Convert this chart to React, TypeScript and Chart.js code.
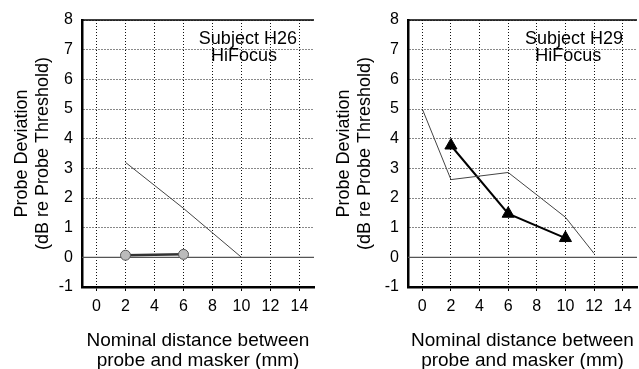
import React, { useEffect, useRef } from "react";
import { Chart, registerables } from "chart.js";

Chart.register(...registerables);

// ---- data ----
const xTickValues = [0, 2, 4, 6, 8, 10, 12, 14];
const yMin = -1;
const yMax = 8;
const xMin = -1;
const xMax = 15;

const h26ThinX = [2, 6, 10];
const h26ThinY = [3.2, 1.65, 0];
const h26CircleX = [2, 6];
const h26CircleY = [0.07, 0.1];

const h29ThinX = [0, 2, 6, 10, 12];
const h29ThinY = [5.0, 2.62, 2.86, 1.35, 0.13];
const h29TriX = [2, 6, 10];
const h29TriY = [3.77, 1.47, 0.65];

const yTitle = ["Probe Deviation", "(dB re Probe Threshold)"];
const xTitle = ["Nominal distance between", "probe and masker (mm)"];
const h26Label = ["Subject H26", "HiFocus"];
const h29Label = ["Subject H29", "HiFocus"];
const h26LabelX = [10.44, 10.17];
const h29LabelX = [10.6, 10.2];
const labelPosY = [7.37, 6.8];

const FONT = "'Liberation Sans', Arial, sans-serif";

const pts = (xs: number[], ys: number[]) => xs.map((x, i) => ({ x, y: ys[i] }));

const framePlugin = {
  id: "frame",
  beforeDatasetsDraw(chart: any) {
    const { ctx, chartArea, scales } = chart;
    const y0 = scales.y.getPixelForValue(0);
    ctx.save();
    ctx.strokeStyle = "#555";
    ctx.lineWidth = 1.2;
    ctx.beginPath();
    ctx.moveTo(chartArea.left, y0);
    ctx.lineTo(chartArea.right, y0);
    ctx.stroke();
    ctx.strokeStyle = "#000";
    ctx.lineWidth = 1.5;
    ctx.beginPath();
    ctx.moveTo(chartArea.left, chartArea.top);
    ctx.lineTo(chartArea.right, chartArea.top);
    ctx.stroke();
    ctx.restore();
  },
  afterDraw(chart: any, _args: any, opts: any) {
    if (!opts || !opts.lines) return;
    const { ctx, scales } = chart;
    ctx.save();
    ctx.fillStyle = "#000";
    ctx.font = `18px ${FONT}`;
    ctx.textAlign = "center";
    ctx.textBaseline = "middle";
    opts.lines.forEach((t: string, i: number) => {
      ctx.fillText(t, scales.x.getPixelForValue(opts.xs[i]), scales.y.getPixelForValue(opts.ys[i]));
    });
    ctx.restore();
  },
};

function makeConfig(p: {
  datasets: any[];
  axisWidth: number;
  padRight: number;
  yTitlePad: number;
  label: string[];
  labelX: number[];
}) {
  return {
    type: "line" as const,
    data: { datasets: p.datasets },
    plugins: [framePlugin],
    options: {
      responsive: false,
      animation: false as const,
      layout: { padding: { top: 20, right: p.padRight, left: 0, bottom: 0 } },
      plugins: {
        legend: { display: false },
        tooltip: { enabled: false },
        frame: { lines: p.label, xs: p.labelX, ys: labelPosY },
      },
      scales: {
        x: {
          type: "linear" as const,
          min: xMin,
          max: xMax,
          afterBuildTicks: (scale: any) => {
            scale.ticks = xTickValues.map((v) => ({ value: v }));
          },
          afterFit: (scale: any) => {
            scale.height = 88;
          },
          grid: {
            color: "#111",
            lineWidth: 1,
            drawTicks: true,
            tickLength: 4,
            tickColor: "#000",
            tickWidth: 1,
          },
          border: { display: true, color: "#000", width: 2.5, dash: [1, 2] },
          ticks: {
            color: "#000",
            font: { size: 16, family: FONT },
            padding: 6,
            maxRotation: 0,
            autoSkip: false,
          },
          title: {
            display: true,
            text: xTitle,
            color: "#000",
            font: { size: 19, family: FONT, lineHeight: 1.06 },
            padding: { top: 0, bottom: 4.5 },
          },
        },
        y: {
          type: "linear" as const,
          min: yMin,
          max: yMax,
          ticks: {
            stepSize: 1,
            color: "#000",
            font: { size: 16, family: FONT },
            padding: 9,
          },
          afterFit: (scale: any) => {
            scale.width = p.axisWidth;
          },
          grid: { color: "#111", lineWidth: 1, drawTicks: false },
          border: { display: true, color: "#000", width: 2.5, dash: [1, 2] },
          title: {
            display: true,
            text: yTitle,
            color: "#000",
            font: { size: 18, family: FONT, lineHeight: 1.2 },
            padding: { top: p.yTitlePad, bottom: 0 },
          },
        },
      },
    },
  };
}

export default function App() {
  const leftRef = useRef<HTMLCanvasElement>(null);
  const rightRef = useRef<HTMLCanvasElement>(null);

  useEffect(() => {
    const left = new Chart(
      leftRef.current as HTMLCanvasElement,
      makeConfig({
        axisWidth: 82,
        padRight: 3,
        yTitlePad: 11,
        label: h26Label,
        labelX: h26LabelX,
        datasets: [
          {
            data: pts(h26ThinX, h26ThinY),
            borderColor: "#444",
            borderWidth: 1,
            pointRadius: 0,
            tension: 0,
          },
          {
            data: pts(h26CircleX, h26CircleY),
            borderColor: "#333",
            borderWidth: 2.5,
            pointRadius: 5,
            pointBackgroundColor: "#bbb",
            pointBorderColor: "#555",
            pointBorderWidth: 1,
            tension: 0,
          },
        ],
      }) as any
    );
    const right = new Chart(
      rightRef.current as HTMLCanvasElement,
      makeConfig({
        axisWidth: 88,
        padRight: 2.3,
        yTitlePad: 13,
        label: h29Label,
        labelX: h29LabelX,
        datasets: [
          {
            data: pts(h29ThinX, h29ThinY),
            borderColor: "#444",
            borderWidth: 1,
            pointRadius: 0,
            tension: 0,
          },
          {
            data: pts(h29TriX, h29TriY),
            borderColor: "#000",
            borderWidth: 2,
            pointStyle: "triangle",
            pointRadius: 7,
            pointBackgroundColor: "#000",
            pointBorderColor: "#000",
            pointBorderWidth: 1,
            tension: 0,
          },
        ],
      }) as any
    );
    return () => {
      left.destroy();
      right.destroy();
    };
  }, []);

  return (
    <div
      style={{
        position: "absolute",
        left: 0,
        top: 0,
        width: 639,
        height: 369,
        overflow: "hidden",
        background: "#fff",
      }}
    >
      <canvas
        ref={leftRef}
        width={320}
        height={375}
        style={{ position: "absolute", left: 0, top: 0, width: 320, height: 375 }}
      />
      <canvas
        ref={rightRef}
        width={325}
        height={375}
        style={{ position: "absolute", left: 320, top: 0, width: 325, height: 375 }}
      />
    </div>
  );
}
